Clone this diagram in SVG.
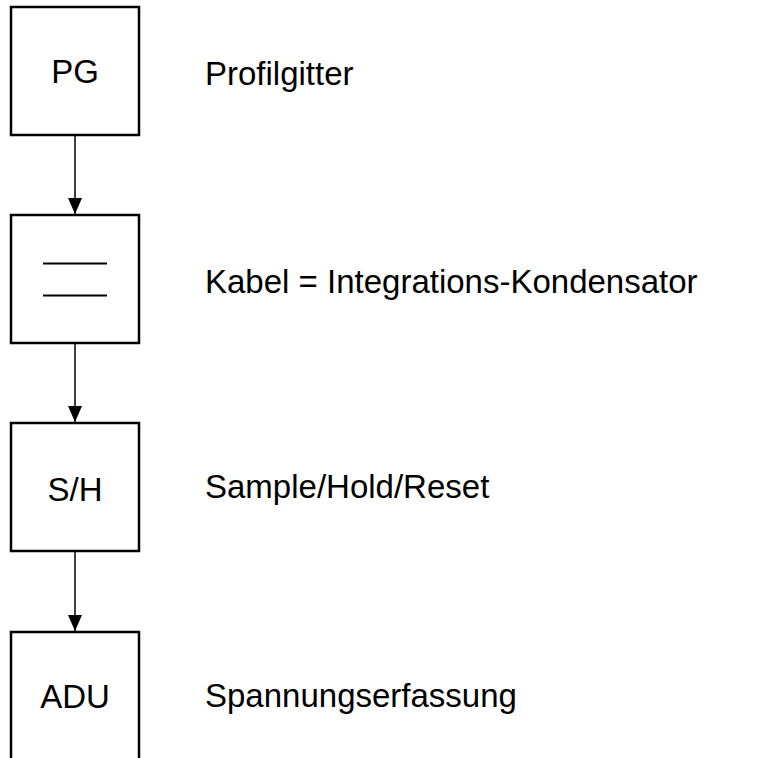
<svg xmlns="http://www.w3.org/2000/svg" width="768" height="758" viewBox="0 0 768 758">
<defs>
<style>
.box{fill:#fff;stroke:#000;stroke-width:2.5}
.t{font-family:"Liberation Sans",Arial,sans-serif;font-size:33px;fill:#000}
.c{text-anchor:middle}
.conn{stroke:#000;stroke-width:1.5;fill:none}
</style>
<marker id="ah" markerWidth="16" markerHeight="14" refX="16" refY="7" orient="auto" markerUnits="userSpaceOnUse">
<path d="M0,0 L16,7 L0,14 Z" fill="#000"/>
</marker>
</defs>
<rect width="768" height="758" fill="#fff"/>
<g id="connectors">
<line class="conn" x1="75" y1="135" x2="75" y2="214" marker-end="url(#ah)"/>
<line class="conn" x1="75" y1="343" x2="75" y2="422" marker-end="url(#ah)"/>
<line class="conn" x1="75" y1="551" x2="75" y2="631" marker-end="url(#ah)"/>
</g>
<g id="pg">
<rect class="box" x="11" y="7" width="128" height="128"/>
<text class="t c" x="75" y="83">PG</text>
<text class="t" x="205" y="85">Profilgitter</text>
</g>
<g id="kabel">
<rect class="box" x="11" y="215" width="128" height="128"/>
<line x1="43" y1="263.5" x2="107" y2="263.5" stroke="#000" stroke-width="2"/>
<line x1="43" y1="295.5" x2="107" y2="295.5" stroke="#000" stroke-width="2"/>
<text class="t" x="205" y="292.5">Kabel = Integrations-Kondensator</text>
</g>
<g id="sh">
<rect class="box" x="11" y="423" width="128" height="128"/>
<text class="t c" x="75" y="500.5">S/H</text>
<text class="t" x="205" y="497.5">Sample/Hold/Reset</text>
</g>
<g id="adu">
<rect class="box" x="11" y="632" width="128" height="140"/>
<text class="t c" x="75" y="708">ADU</text>
<text class="t" x="205" y="706.5">Spannungserfassung</text>
</g>
</svg>
